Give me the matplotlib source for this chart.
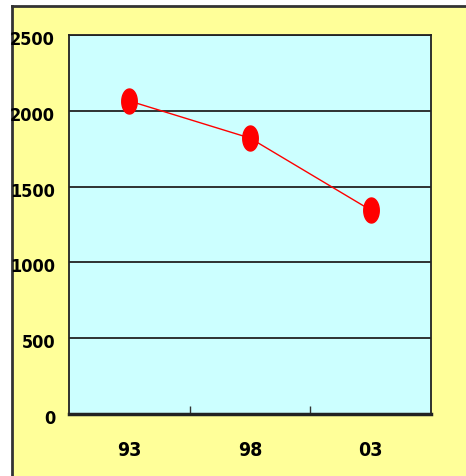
import matplotlib
matplotlib.use("Agg")
import matplotlib.pyplot as plt
import matplotlib.transforms as mtransforms
import numpy as np
from matplotlib.path import Path
from matplotlib.lines import Line2D
from matplotlib.patches import Rectangle

plt.rcParams['font.family'] = ['DejaVu Sans']
plt.rcParams['font.weight'] = 'bold'
plt.rcParams['font.stretch'] = 'condensed'

years = ['93', '98', '03']
values = [2065, 1820, 1345]
yticks = [0, 500, 1000, 1500, 2000, 2500]

fig = plt.figure(figsize=(4.66, 4.77), dpi=100)
fig.patch.set_facecolor('white')

# yellow panel with a dark frame on the top and left edges
fig.patches.append(Rectangle((11.5 / 466, 0), 1, 1 - 6.5 / 477, transform=fig.transFigure,
                             facecolor='#FFFF99', edgecolor='none', zorder=-2))
fig.lines.append(Line2D([11.5 / 466, 1], [1 - 6.5 / 477] * 2, transform=fig.transFigure,
                        color='#333333', lw=2, zorder=-1))
fig.lines.append(Line2D([11.5 / 466] * 2, [0, 1 - 6.5 / 477], transform=fig.transFigure,
                        color='#333333', lw=2, zorder=-1))

ax = fig.add_axes([69 / 466, 62 / 477, 362 / 466, 379 / 477])
ax.set_facecolor('#CCFFFF')

# elliptical marker
t = np.linspace(0, 2 * np.pi, 60)
ellipse = Path(np.column_stack([0.62 * np.cos(t), np.sin(t)]), closed=True)

x = np.arange(len(years))
ax.plot(x, values, color='red', lw=1, marker=ellipse, markersize=18,
        markerfacecolor='red', markeredgecolor='red', zorder=3)

ax.set_xlim(-0.5, len(years) - 0.5)
ax.set_ylim(0, 2500)
ax.set_yticks(yticks)
ax.yaxis.grid(True, color='#222222', lw=1.3)
ax.set_axisbelow(True)

ax.set_xticks(x)
ax.set_xticklabels(years, fontsize=14, fontweight='bold')
ax.tick_params(axis='x', length=0, pad=19)
ax.set_xticks(x[:-1] + 0.5, minor=True)
ax.tick_params(axis='x', which='minor', direction='in', length=6, width=1, color='#333333')
ax.tick_params(axis='y', length=0, pad=10, labelsize=13)
shift = mtransforms.ScaledTranslation(0, -2 / 100, fig.dpi_scale_trans)
for lbl in ax.get_yticklabels():
    lbl.set_fontweight('bold')
    lbl.set_transform(lbl.get_transform() + shift)

for side in ['left', 'right', 'top']:
    ax.spines[side].set_linewidth(1.3)
    ax.spines[side].set_color('#222222')
ax.spines['bottom'].set_linewidth(2.5)
ax.spines['bottom'].set_color('#222222')

fig.savefig('out.png', dpi=100, facecolor=fig.get_facecolor())
